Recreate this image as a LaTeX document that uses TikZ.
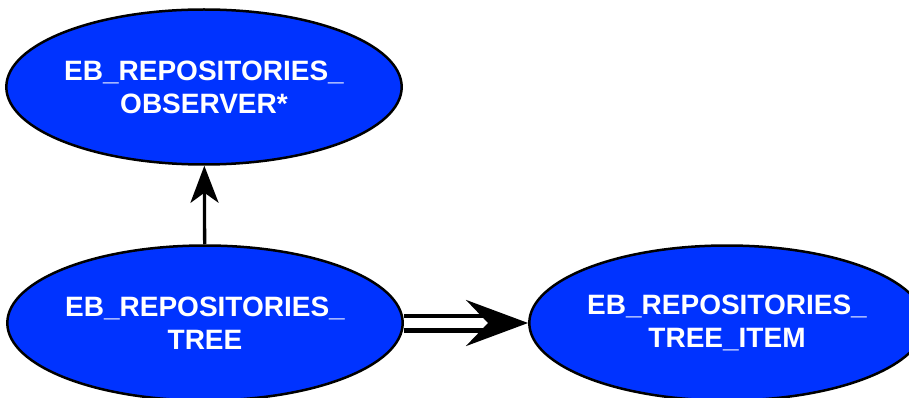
\documentclass[tikz,border=0pt]{standalone}
\usepackage{fontspec}
\setmainfont{Liberation Sans}
\usetikzlibrary{shapes.geometric,arrows.meta}
\definecolor{nodeblue}{RGB}{0,51,255}
\tikzset{
  cls/.style={ellipse, draw=black, line width=2.5pt, fill=nodeblue, inner sep=0pt,
    minimum width=386pt, minimum height=155pt, text=white,
    font=\fontsize{28}{33}\selectfont\bfseries, align=center},
  inherit/.style={line width=3.3pt, -{Stealth[length=37pt,width=28pt,inset=10pt]}},
  client/.style={double=white, double distance=10pt, line width=4.5pt,
    -{Stealth[length=62pt,width=46pt,inset=22pt]}}
}
\begin{document}
\begin{tikzpicture}[x=1pt,y=-1pt]
\useasboundingbox (0,0) rectangle (909,398);
\node[cls] (obs) at (204,87) {EB\_REPOSITORIES\_\\OBSERVER*};
\node[cls] (tree) at (205,323) {EB\_REPOSITORIES\_\\TREE};
\node[cls] (item) at (727,323) {EB\_REPOSITORIES\_\\TREE\_ITEM};
\draw[inherit] (tree) -- (obs);
\draw[client] (tree) -- (item);
\end{tikzpicture}
\end{document}
